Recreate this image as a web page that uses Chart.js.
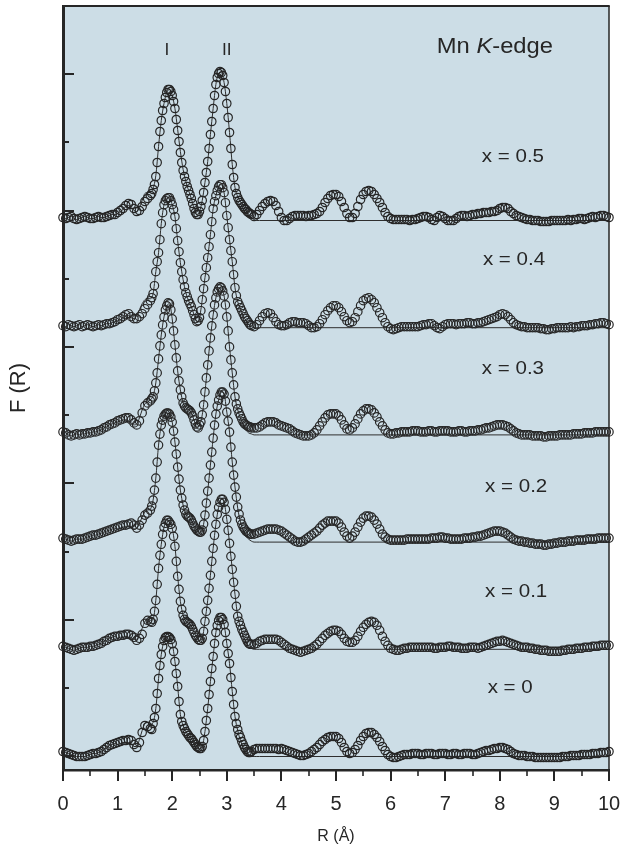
<!DOCTYPE html>
<html>
<head>
<meta charset="utf-8">
<script src="https://cdn.jsdelivr.net/npm/chart.js@4/dist/chart.umd.min.js"></script>
<style>
html,body{margin:0;padding:0;background:#ffffff;}
#wrap{width:622px;height:848px;position:relative;}
</style>
</head>
<body>
<div id="wrap"><canvas id="c" width="622" height="848"></canvas></div>
<script>
// ---------------- DATA ----------------
// R grid (Å): 0.05 Å steps, with 0.025 Å steps across the two main shells (1.6 - 3.45 Å)
const lowR  = Array.from({length: 32},  (_, i) => Math.round(i * 5) / 100);          // 0 .. 1.55
const peakR = Array.from({length: 75},  (_, i) => Math.round(1600 + i * 25) / 1000); // 1.6 .. 3.45
const tailR = Array.from({length: 131}, (_, i) => Math.round(350 + i * 5) / 100);    // 3.5 .. 10
const rValues = lowR.concat(peakR, tailR);
// Fit curves: 0.05 Å steps on 0 .. 3.6 Å, then flat to 10 Å
const fitR = Array.from({length: 73}, (_, i) => Math.round(i * 5) / 100).concat([10]);

const seriesLabels = ['x = 0', 'x = 0.1', 'x = 0.2', 'x = 0.3', 'x = 0.4', 'x = 0.5'];
// vertical offsets of the stacked curves (a.u.)
const curveOffsets = [13.5, 120.7, 227.9, 335.1, 442.3, 549.5];

// |F(R)| experimental data (a.u.), one value per rValues entry
const s00 = [
5,4,3,2,1,0,0,0,0,1,2,3,3,4,5,7,9,11,12,13,
14,15,16,16,17,16,12,9,14,24,31,30,
28,27,33,39,48,63,78,91,102,110,
116,119,120,120,119,117,113,105,95,83,
70,55,42,35,31,28,25,23,21,19,
18,16,14,12,10,9,8,8,10,16,
25,36,48,62,75,88,100,113,124,131,
136,139,139,137,132,124,113,103,93,79,
65,52,40,33,27,22,19,15,12,9,
7,5,4,4,5,
7,8,8,8,8,8,8,8,8,7,
8,7,6,5,4,3,2,1,1,2,3,5,7,9,12,15,17,19,20,20,
20,18,14,9,5,3,4,7,11,16,20,23,24,24,22,19,15,10,6,2,
0,-1,-1,0,1,2,2,2,3,3,3,2,2,3,3,3,2,2,3,3,
3,2,2,3,3,2,2,3,3,3,2,2,3,4,5,6,6,7,8,8,
9,9,8,7,5,3,2,1,1,1,0,0,0,-1,-1,-1,-1,-1,-1,-1,
-1,-1,-1,0,0,0,1,1,1,1,2,2,2,2,3,3,3,4,4,4,
5];
const s01 = [
3,2,1,0,-1,0,1,2,2,2,3,3,4,5,6,8,9,11,12,13,
13,14,14,15,15,14,12,9,11,15,26,29,
28,27,30,38,49,65,81,94,105,115,
122,126,129,129,127,125,121,113,103,88,
73,60,48,40,34,30,28,27,26,25,
23,20,17,14,12,10,9,9,11,18,
28,38,49,61,74,88,101,114,125,135,
142,147,150,150,147,140,130,119,106,93,
80,67,55,43,33,28,24,20,17,14,
11,8,6,5,5,
5,6,8,9,10,10,10,10,10,9,
7,5,3,1,0,-1,-2,-3,-2,-1,0,1,3,5,8,11,14,16,18,19,
19,18,15,11,8,7,7,9,13,18,22,25,27,28,27,24,19,13,8,4,
1,0,-1,-1,0,1,1,2,2,2,2,2,2,2,2,2,1,1,2,2,
2,3,3,2,2,2,1,1,1,2,2,2,1,2,3,4,5,6,7,8,
8,9,8,7,6,5,4,3,2,2,2,1,1,0,0,-1,-1,-1,-2,-2,
-2,-2,-2,-1,-1,0,0,0,1,1,1,2,2,2,3,3,3,4,4,4,
4];
const s02 = [
4,3,2,1,2,3,3,3,4,5,6,7,7,8,9,10,11,12,13,14,
15,16,17,17,18,19,17,14,17,22,27,29,
32,36,42,52,64,80,97,108,117,122,
126,128,129,129,128,125,120,111,100,88,
75,63,52,44,37,32,28,26,25,24,
22,19,16,14,12,11,10,10,12,18,
27,39,51,64,77,90,104,117,128,136,
142,147,150,150,148,141,130,121,110,95,
80,67,55,45,35,28,22,18,15,13,
11,10,9,8,8,
8,9,10,11,12,13,13,13,13,12,
11,9,7,5,3,1,0,0,1,3,5,7,9,11,14,17,19,21,21,21,
21,19,15,10,6,4,6,10,15,20,24,26,26,25,22,18,13,8,5,3,
2,2,2,2,2,2,3,3,3,3,3,3,3,3,3,4,4,4,5,5,
4,4,3,3,3,3,3,4,4,4,5,5,6,6,7,8,9,10,11,11,
11,10,9,7,5,3,2,1,1,0,0,-1,-1,-2,-2,-2,-3,-3,-2,-2,
-1,-1,0,0,0,1,1,1,2,2,2,2,3,3,3,3,4,4,4,4,
4];
const s03 = [
3,2,0,-1,0,1,0,1,1,2,2,3,3,4,5,7,8,10,11,12,
14,15,16,17,17,15,12,10,14,22,29,32,
34,36,38,44,52,62,76,89,100,110,
118,125,129,132,131,125,116,104,90,77,
64,54,45,38,32,29,27,26,25,24,
22,19,15,11,8,7,10,13,20,30,
43,57,70,84,97,109,120,130,137,143,
146,148,147,144,139,130,118,104,88,75,
62,50,38,31,26,22,19,16,13,11,
10,9,8,8,7,
7,7,8,10,12,13,13,13,12,10,
9,8,7,6,4,2,1,0,-1,-1,-1,0,2,5,9,13,17,20,21,21,
21,19,15,10,6,5,7,11,16,21,24,26,26,25,22,18,13,9,5,2,
1,1,2,2,3,3,3,3,4,4,4,3,3,3,4,4,3,3,4,4,
4,4,3,3,3,4,4,3,3,4,4,4,5,5,6,7,7,8,9,10,
10,10,9,8,6,4,2,1,0,0,0,0,-1,-1,-1,-1,-2,-2,-1,-1,
-1,-1,0,0,0,0,0,1,1,1,1,2,2,2,2,3,3,3,3,3,
3];
const s04 = [
2,1,3,2,1,2,3,1,2,3,2,1,2,3,2,3,4,4,5,6,
8,9,11,13,14,11,9,9,11,14,19,23,
27,30,34,42,56,66,75,88,104,115,
123,127,129,130,130,127,123,118,111,99,
87,76,65,56,48,41,35,31,27,24,
21,17,13,9,6,7,10,17,28,39,
50,60,70,81,93,106,119,126,132,137,
141,143,143,140,135,125,112,100,88,77,
66,53,40,32,26,23,20,17,14,11,
9,7,5,3,2,
1,3,7,11,14,15,14,10,6,3,
2,2,3,5,6,6,5,5,5,4,2,0,0,1,4,8,13,17,20,22,
22,20,16,11,7,5,6,10,16,22,27,29,30,28,25,20,15,10,5,1,
-1,-2,-1,0,1,1,1,1,1,1,1,2,3,3,4,4,2,0,-1,1,
3,4,4,4,3,4,4,4,5,5,4,4,5,5,6,7,8,9,10,11,
13,14,13,11,8,5,3,2,1,1,0,0,0,0,0,-1,-1,-2,-2,-1,
-1,0,0,0,0,0,1,0,1,1,2,2,2,3,3,4,4,5,5,4,
3];
const s05 = [
3,2,3,4,2,1,2,3,4,3,2,2,3,4,3,3,4,5,6,6,
8,10,12,15,17,16,12,9,10,14,19,22,
25,27,31,36,44,58,74,89,100,110,
117,123,128,131,131,129,125,119,112,101,
90,79,68,58,50,44,39,34,30,26,
22,17,12,8,6,6,9,14,20,28,
38,48,59,72,86,99,112,125,136,143,
147,149,148,145,138,129,117,103,88,72,
56,43,33,27,23,20,18,16,14,12,
11,9,8,7,6,
4,6,10,14,17,19,20,19,15,9,
3,0,0,2,4,5,5,5,5,4,5,5,6,7,9,13,18,22,25,26,
26,24,19,13,7,3,3,7,14,21,26,29,30,29,26,22,18,13,8,4,
2,1,1,1,1,1,1,0,1,1,2,3,4,4,3,1,0,3,5,4,
2,0,0,0,2,4,5,5,4,5,6,6,7,7,8,8,8,9,9,10,
12,13,13,12,9,7,5,4,3,2,1,1,0,0,0,-1,-1,-1,-1,0,
0,0,0,0,0,1,0,1,1,2,2,1,2,3,4,3,4,5,5,4,
3];

// Fit curves (a.u.), one value per fitR entry
const f00 = [
5,4,3,2,1,0,0,0,0,1,2,3,3,4,5,7,9,11,12,13,
12,13,14,14,14,13,10,10,17,26,33,34,32,34,48,78,102,116,120,119,
113,95,70,42,31,25,21,18,14,10,8,10,25,48,75,100,124,136,139,132,
113,93,65,40,26,16,9,4,1,0,0,0,0,
0];
const f01 = [
3,2,1,0,-1,0,1,2,2,2,3,3,4,5,6,8,9,11,12,13,
11,12,12,13,12,11,10,10,14,21,28,30,29,30,49,81,105,122,129,127,
121,103,73,48,34,28,26,23,17,12,9,11,28,49,74,101,125,142,150,147,
130,106,80,55,33,22,13,7,3,1,0,0,0,
0];
const f02 = [
4,3,2,1,2,3,3,3,4,5,6,7,7,8,9,10,11,12,13,14,
13,14,15,15,16,15,13,14,19,25,30,32,33,42,64,97,117,126,129,128,
120,100,75,52,37,28,25,22,16,12,10,12,27,51,77,104,128,142,150,148,
130,110,80,55,34,20,12,6,3,1,0,0,0,
0];
const f03 = [
3,2,0,-1,0,1,0,1,1,2,2,3,3,4,5,7,8,10,11,12,
13,14,15,15,14,12,10,11,17,25,31,33,35,39,52,76,100,118,129,131,
116,90,64,45,32,27,25,22,15,8,10,20,43,70,97,120,137,146,147,139,
118,88,62,38,25,17,10,5,2,1,0,0,0,
0];
const f04 = [
2,1,3,2,1,2,3,1,2,3,2,1,2,3,2,3,4,4,5,6,
7,8,10,12,12,10,9,12,18,24,28,29,29,34,56,75,104,123,129,130,
123,111,87,65,48,35,27,21,13,6,10,28,50,70,93,119,132,141,143,135,
112,88,66,40,26,19,12,7,3,1,0,0,0,
0];
const f05 = [
3,2,3,4,2,1,2,3,4,3,2,2,3,4,3,3,4,5,6,6,
7,9,11,14,15,13,10,9,13,20,27,28,28,32,45,74,100,117,128,131,
125,112,91,69,51,39,30,22,12,6,9,20,38,59,86,112,136,147,148,138,
117,88,56,33,24,19,15,10,6,3,1,0,0,
0];

const dataSeries = [s00, s01, s02, s03, s04, s05];
const fitSeries = [f00, f01, f02, f03, f04, f05];

// axis ticks
const xTickValues = [0,1,2,3,4,5,6,7,8,9,10];
const xMinorTickValues = [0.5,1.5,2.5,3.5,4.5,5.5,6.5,7.5,8.5,9.5];
const yTickValues = [13.8, 82, 150.2, 218.4, 286.6, 354.8, 423, 491.2, 559.4, 627.6, 695.8, 764];

// text annotations (positions in data units)
const seriesLabelR = [8.19, 8.30, 8.30, 8.24, 8.26, 8.24];
const seriesLabelY = [77.3, 173.3, 278.3, 396, 505, 608.3];
const peakLabels = ['I', 'II'];
const peakLabelR = [1.905, 3.0];
const peakLabelY = 715;
const edgeLabelParts = ['Mn ', 'K', '-edge'];
const edgeLabelR = 7.91;
const edgeLabelY = 716.7;

// ---------------- STYLE ----------------
const FONT = '"Liberation Sans", Arial, Helvetica, sans-serif';
const INK = '#262626';
const PLOT_BG = '#ccdde6';
const TEXT_STRETCH = 1.08;

Chart.defaults.font.family = FONT;
Chart.defaults.color = INK;

function drawStretchedText(ctx, parts, cx, baseY, size) {
  let total = 0;
  parts.forEach(p => {
    ctx.font = (p.italic ? 'italic ' : '') + size + 'px ' + FONT;
    p.w = ctx.measureText(p.text).width;
    total += p.w;
  });
  ctx.save();
  ctx.translate(cx - total * TEXT_STRETCH / 2, baseY);
  ctx.scale(TEXT_STRETCH, 1);
  ctx.textAlign = 'left';
  ctx.textBaseline = 'alphabetic';
  let x = 0;
  parts.forEach(p => {
    ctx.font = (p.italic ? 'italic ' : '') + size + 'px ' + FONT;
    ctx.fillText(p.text, x, 0);
    x += p.w;
  });
  ctx.restore();
}

const framePlugin = {
  id: 'framePlugin',
  beforeDraw(chart) {
    const {ctx, chartArea: {left, top, right, bottom}} = chart;
    ctx.save();
    ctx.fillStyle = PLOT_BG;
    ctx.fillRect(left, top, right - left, bottom - top);
    ctx.restore();
  },
  afterDraw(chart) {
    const {ctx, chartArea: {left, top, right, bottom}, scales: {x, y}} = chart;
    ctx.save();
    ctx.strokeStyle = INK;
    const seg = (x1, y1, x2, y2) => { ctx.beginPath(); ctx.moveTo(x1, y1); ctx.lineTo(x2, y2); ctx.stroke(); };
    ctx.lineWidth = 2;
    seg(left, top, right + 0.75, top);
    ctx.lineWidth = 1.5;
    seg(right, top, right, bottom);
    ctx.lineWidth = 2;
    yTickValues.forEach((v, i) => {
      const py = Math.round(y.getPixelForValue(v));
      seg(left, py, left + (i % 2 === 0 ? 11 : 6), py);
    });
    ctx.lineWidth = 2;
    xTickValues.forEach(v => {
      const px = Math.round(x.getPixelForValue(v));
      seg(px, bottom, px, bottom + 11);
    });
    ctx.lineWidth = 1.6;
    xMinorTickValues.forEach(v => {
      const px = Math.round(x.getPixelForValue(v));
      seg(px, bottom, px, bottom + 6);
    });
    ctx.fillStyle = INK;
    seriesLabels.forEach((t, k) => {
      drawStretchedText(ctx, [{text: t}], x.getPixelForValue(seriesLabelR[k]), y.getPixelForValue(seriesLabelY[k]), 19);
    });
    peakLabels.forEach((t, k) => {
      drawStretchedText(ctx, [{text: t}], x.getPixelForValue(peakLabelR[k]), y.getPixelForValue(peakLabelY), 16);
    });
    drawStretchedText(ctx, edgeLabelParts.map((t, i) => ({text: t, italic: i === 1})),
      x.getPixelForValue(edgeLabelR), y.getPixelForValue(edgeLabelY), 22);
    ctx.restore();
  }
};

const datasets = [];
dataSeries.forEach((arr, k) => {
  datasets.push({
    label: seriesLabels[k] + ' (data)',
    data: arr.map((v, i) => ({x: rValues[i], y: v + curveOffsets[k]})),
    showLine: false,
    pointStyle: 'circle',
    pointRadius: 4.2,
    pointHoverRadius: 4.2,
    pointBorderWidth: 1.2,
    pointBorderColor: '#262626',
    pointBackgroundColor: 'rgba(0,0,0,0)',
    clip: 6
  });
});
fitSeries.forEach((arr, k) => {
  datasets.push({
    label: seriesLabels[k] + ' (fit)',
    data: arr.map((v, i) => ({x: fitR[i], y: v + curveOffsets[k]})),
    showLine: true,
    borderColor: '#2e2e2e',
    borderWidth: 1,
    pointRadius: 0,
    fill: false,
    cubicInterpolationMode: 'monotone',
    clip: 2
  });
});

new Chart(document.getElementById('c'), {
  type: 'line',
  data: {datasets},
  options: {
    responsive: false,
    devicePixelRatio: 1,
    animation: false,
    events: [],
    layout: {padding: {left: 0, top: 6, right: 13, bottom: 0}},
    plugins: {legend: {display: false}, tooltip: {enabled: false}, title: {display: false}},
    scales: {
      x: {
        type: 'linear',
        min: 0, max: 10,
        position: 'bottom',
        afterBuildTicks: s => { s.ticks = xTickValues.map(v => ({value: v})); },
        afterFit: s => { s.height = 78; s.paddingLeft = 0; s.paddingRight = 0; },
        grid: {display: false, drawTicks: false},
        border: {display: true, width: 2.5, color: INK},
        ticks: {
          autoSkip: false, maxRotation: 0, minRotation: 0,
          padding: 22,
          color: INK,
          font: {size: 20, family: FONT}
        },
        title: {
          display: true, text: 'R (Å)', color: INK,
          font: {size: 16, family: FONT},
          padding: {top: 0, bottom: 1.5}
        }
      },
      y: {
        type: 'linear',
        min: 0, max: 764,
        position: 'left',
        afterBuildTicks: s => { s.ticks = yTickValues.map(v => ({value: v})); },
        afterFit: s => { s.width = 63; s.paddingTop = 0; s.paddingBottom = 0; },
        grid: {display: false, drawTicks: false},
        border: {display: true, width: 3, color: INK},
        ticks: {display: false},
        title: {
          display: true, text: 'F (R)', color: INK,
          font: {size: 22, family: FONT},
          padding: {top: 6, bottom: 0}
        }
      }
    }
  },
  plugins: [framePlugin]
});
</script>
</body>
</html>
